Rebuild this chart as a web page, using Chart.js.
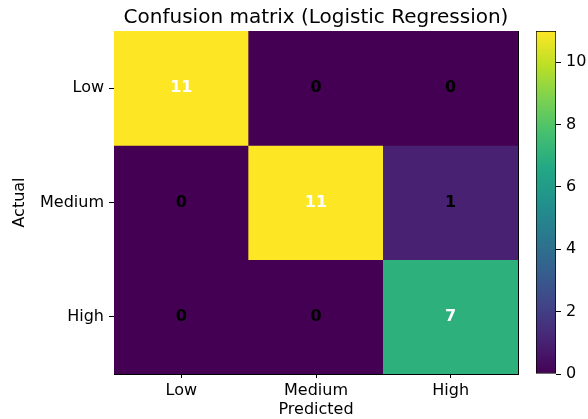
<!DOCTYPE html>
<html>
<head>
<meta charset="utf-8">
<script src="https://cdn.jsdelivr.net/npm/chart.js@4.4.1/dist/chart.umd.min.js"></script>
<style>
  html, body { margin: 0; padding: 0; background: #ffffff; }
  #wrap { position: relative; width: 588px; height: 419px; }
  #wrap canvas { position: absolute; top: 0; }
  #matrix { left: 0; }
  #colorbar { left: 520px; }
</style>
</head>
<body>
<div id="wrap">
  <canvas id="matrix" width="588" height="419"></canvas>
  <canvas id="colorbar" width="68" height="419"></canvas>
</div>
<script>
// Class labels (predicted along x, actual along y) and the count matrix
const predictedLabels = ['Low', 'Medium', 'High'];
const actualLabels = ['Low', 'Medium', 'High'];
const counts = [
  [11, 0, 0],
  [0, 11, 1],
  [0, 0, 7]
];
const colorbarTicks = [0, 2, 4, 6, 8, 10];
const titleText = 'Confusion matrix (Logistic Regression)';

const vmin = 0;
const vmax = Math.max(...counts.flat());
const FONT = "'DejaVu Sans', sans-serif";

// Viridis colormap anchors
const viridisStops = ['#440154', '#482475', '#414487', '#355f8d', '#2a788e',
  '#21918c', '#22a884', '#44bf70', '#7ad151', '#bddf26', '#fde725'];

function hexToRgb(h) {
  return [1, 3, 5].map(i => parseInt(h.slice(i, i + 2), 16));
}
function viridis(t) {
  t = Math.min(1, Math.max(0, t));
  const pos = t * (viridisStops.length - 1);
  const i = Math.min(Math.floor(pos), viridisStops.length - 2);
  const f = pos - i;
  const a = hexToRgb(viridisStops[i]);
  const b = hexToRgb(viridisStops[i + 1]);
  const c = a.map((v, k) => Math.round(v + (b[k] - v) * f));
  return `rgb(${c[0]},${c[1]},${c[2]})`;
}
function norm(v) { return (v - vmin) / (vmax - vmin); }

// One floating-bar dataset per actual row; each bar spans its row band
const datasets = actualLabels.map((rowLabel, r) => ({
  label: rowLabel,
  data: counts[r].map(() => [r, r + 1]),
  backgroundColor: counts[r].map(v => viridis(norm(v))),
  borderWidth: 0,
  grouped: false,
  barPercentage: 1,
  categoryPercentage: 1
}));

// Writes each cell's count at the centre of its bar
const cellText = {
  id: 'cellText',
  afterDatasetsDraw(chart) {
    const ctx = chart.ctx;
    ctx.save();
    ctx.font = `bold 16px ${FONT}`;
    ctx.textAlign = 'center';
    ctx.textBaseline = 'middle';
    chart.data.datasets.forEach((ds, r) => {
      const meta = chart.getDatasetMeta(r);
      meta.data.forEach((bar, c) => {
        const v = counts[r][c];
        ctx.fillStyle = v > (vmax + vmin) / 2 ? '#ffffff' : '#000000';
        ctx.fillText(String(v), bar.x, (bar.y + bar.base) / 2);
      });
    });
    ctx.restore();
  }
};

const tickFont = { family: FONT, size: 16 };

new Chart(document.getElementById('matrix'), {
  type: 'bar',
  data: { labels: predictedLabels, datasets },
  plugins: [cellText],
  options: {
    responsive: false,
    animation: false,
    devicePixelRatio: 1,
    layout: { padding: { left: 0, right: 70, top: 0, bottom: 0 } },
    plugins: {
      legend: { display: false },
      tooltip: { enabled: false },
      title: {
        display: true,
        fullSize: false,
        text: titleText,
        color: '#000000',
        font: { family: FONT, size: 20, weight: 'normal' },
        padding: { top: 6, bottom: 1 }
      }
    },
    scales: {
      x: {
        type: 'category',
        offset: true,
        ticks: { color: '#000000', font: tickFont, padding: 3 },
        grid: { offset: false, drawOnChartArea: false, tickLength: 4, color: '#000000' },
        border: { display: true, color: '#000000', width: 1 },
        title: { display: true, text: 'Predicted', color: '#000000', font: tickFont, padding: { top: 0, bottom: 0 } },
        afterFit(s) { s.height = 45; }
      },
      y: {
        type: 'linear',
        min: 0,
        max: actualLabels.length,
        reverse: true,
        afterBuildTicks(s) { s.ticks = actualLabels.map((_, i) => ({ value: i + 0.5 })); },
        ticks: {
          color: '#000000', font: tickFont, padding: 5,
          callback: (v, i) => actualLabels[i]
        },
        grid: { drawOnChartArea: false, tickLength: 5, color: '#000000' },
        border: { display: true, color: '#000000', width: 1 },
        title: { display: true, text: 'Actual', color: '#000000', font: tickFont, padding: { top: 10, bottom: 0 } },
        afterFit(s) { s.width = 114; }
      },
      xTop: {
        type: 'category',
        position: 'top',
        ticks: { display: false },
        grid: { display: false, drawTicks: false },
        border: { display: true, color: '#000000', width: 1 },
        afterFit(s) { s.height = 0; }
      },
      yRight: {
        type: 'linear',
        position: 'right',
        min: 0,
        max: actualLabels.length,
        ticks: { display: false },
        grid: { display: false, drawTicks: false },
        border: { display: true, color: '#000000', width: 1 },
        afterFit(s) { s.width = 0; }
      }
    }
  }
});

// Colour bar: a single bar from vmin to vmax filled with the colormap
new Chart(document.getElementById('colorbar'), {
  type: 'bar',
  data: {
    labels: [''],
    datasets: [{
      data: [[vmin, vmax]],
      backgroundColor(ctx) {
        const area = ctx.chart.chartArea;
        if (!area) return viridisStops[0];
        const g = ctx.chart.ctx.createLinearGradient(0, area.bottom, 0, area.top);
        viridisStops.forEach((c, i) => g.addColorStop(i / (viridisStops.length - 1), c));
        return g;
      },
      borderColor: '#000000',
      borderWidth: 1,
      borderSkipped: false,
      barPercentage: 1,
      categoryPercentage: 1
    }]
  },
  options: {
    responsive: false,
    animation: false,
    devicePixelRatio: 1,
    layout: { padding: { left: 16, right: 0, top: 31, bottom: 45 } },
    plugins: { legend: { display: false }, tooltip: { enabled: false }, title: { display: false } },
    scales: {
      x: { display: false },
      y: {
        position: 'right',
        min: vmin,
        max: vmax,
        afterBuildTicks(s) { s.ticks = colorbarTicks.map(v => ({ value: v })); },
        ticks: { color: '#000000', font: tickFont, padding: 5 },
        grid: { drawOnChartArea: false, tickLength: 5, color: '#000000' },
        border: { display: false },
        afterFit(s) { s.width = 32; }
      }
    }
  }
});
</script>
</body>
</html>
